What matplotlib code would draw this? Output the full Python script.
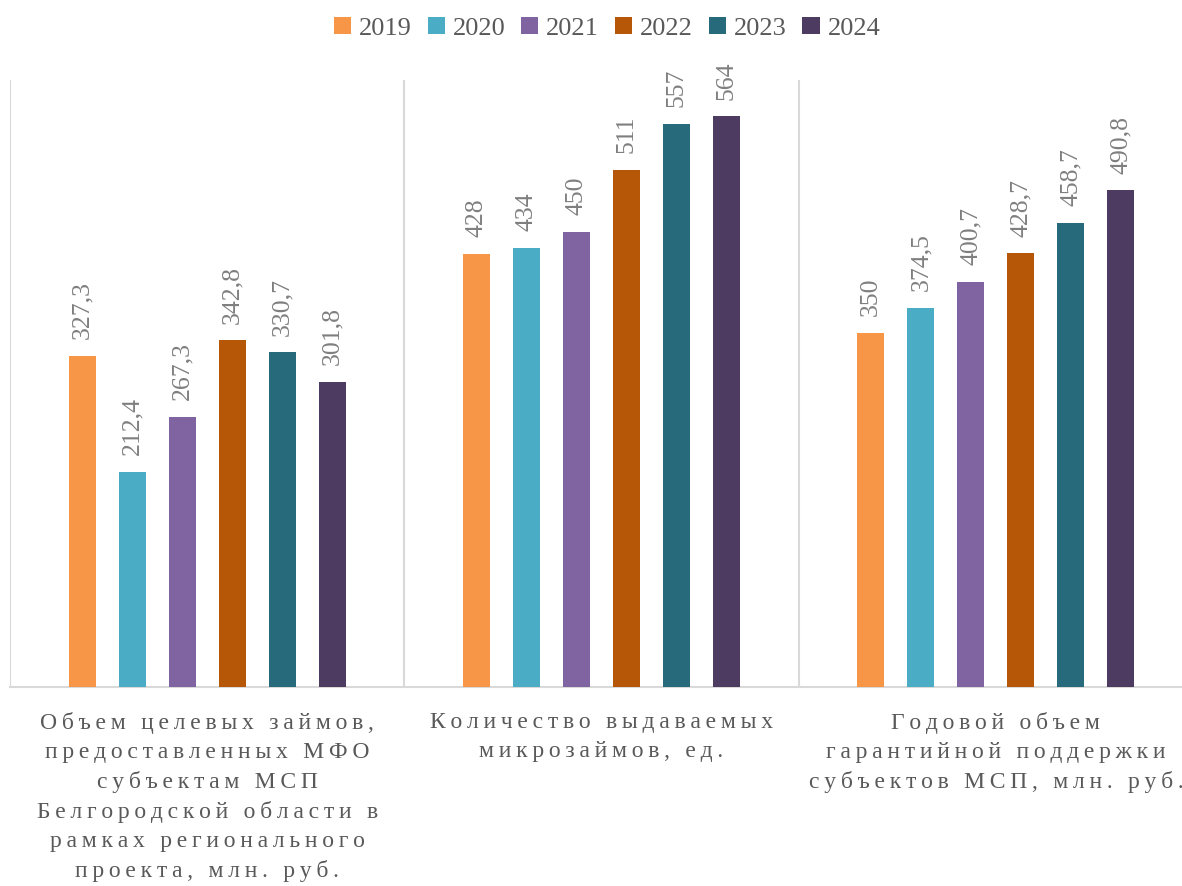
import matplotlib
matplotlib.use("Agg")
import matplotlib.pyplot as plt
import numpy as np

plt.rcParams['font.family'] = ['Liberation Serif', 'DejaVu Serif']

# data
years = ['2019', '2020', '2021', '2022', '2023', '2024']
categories = [
    'Объем целевых займов,\nпредоставленных МФО\nсубъектам МСП\nБелгородской области в\nрамках регионального\nпроекта, млн. руб.',
    'Количество выдаваемых\nмикрозаймов, ед.',
    'Годовой объем\nгарантийной поддержки\nсубъектов МСП, млн. руб.',
]
loans_volume = [327.3, 212.4, 267.3, 342.8, 330.7, 301.8]
microloans_count = [428, 434, 450, 511, 557, 564]
guarantee_volume = [350, 374.5, 400.7, 428.7, 458.7, 490.8]
colors = ['#F79646', '#4BACC6', '#8064A2', '#B65708', '#276A7C', '#4D3B62']

series = np.array([loans_volume, microloans_count, guarantee_volume]).T  # rows = years


def spaced(text):
    # imitate the wide letter spacing of the original labels
    return '\n'.join('\u2009'.join(line) for line in text.split('\n'))


def fmt(v):
    return f'{v:g}'.replace('.', ',')


W, H = 1182, 886
fig = plt.figure(figsize=(W / 100, H / 100), dpi=100)
ax = fig.add_axes([10 / W, (H - 687) / H, 1183 / W, (687 - 80) / H])

x = np.arange(len(categories))
step = 50 / 394.3
width = 27 / 394.3

for i, year in enumerate(years):
    pos = x + (i - 2.5) * step
    bars = ax.bar(pos, series[i], width=width, color=colors[i], label=year, zorder=3)
    for b, v in zip(bars, series[i]):
        ax.annotate(fmt(v), (b.get_x() + b.get_width() / 2, b.get_height()),
                    xytext=(0, 12), textcoords='offset points',
                    rotation=90, ha='center', va='bottom',
                    fontsize=18.5, color='#7F7F7F')

ax.set_xlim(-0.5, 2.5)
ax.set_ylim(0, 600)

# separators between categories
for sx in [-0.5, 0.5, 1.5]:
    ax.axvline(sx, color='#D9D9D9', lw=1.5, zorder=1)

for s in ['top', 'right', 'left']:
    ax.spines[s].set_visible(False)
ax.spines['bottom'].set_color('#D9D9D9')
ax.spines['bottom'].set_linewidth(1.5)
ax.set_yticks([])
ax.set_xticks([])

for xi, cat in zip(x, categories):
    ax.annotate(spaced(cat), (xi, 0), xytext=(0, -18), textcoords='offset points',
                ha='center', va='top', fontsize=17, color='#595959',
                linespacing=1.48, annotation_clip=False)

leg = fig.legend(loc='upper center', bbox_to_anchor=(607 / W, 1 - 6 / H), ncol=6,
                 frameon=False, fontsize=19, handlelength=0.65, handleheight=0.65,
                 handletextpad=0.3, columnspacing=0.6, borderaxespad=0)
for t in leg.get_texts():
    t.set_color('#595959')

fig.savefig('out.png', dpi=100)
